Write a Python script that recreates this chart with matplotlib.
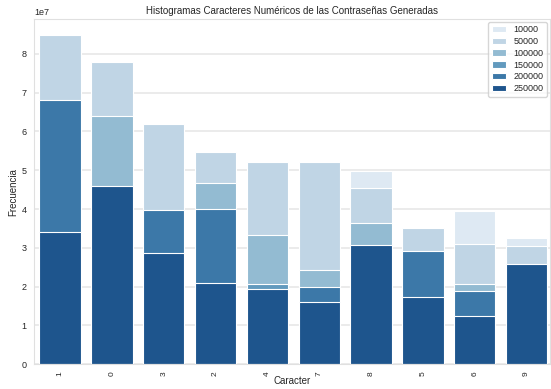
import numpy as np
import matplotlib
matplotlib.use('Agg')
import matplotlib.pyplot as plt
import seaborn as sns

nan = np.nan
caracteres = ['1', '0', '3', '2', '4', '7', '8', '5', '6', '9']
tamanos = ['10000', '50000', '100000', '150000', '200000', '250000']

# frecuencias (x 1e7), valores ocultos detras de otras barras = nan
f_10000 = [nan, nan, nan, nan, nan, nan, 4.98, nan, 3.94, 3.24]
f_50000 = [8.48, 7.79, 6.20, 5.47, 5.22, 5.21, 4.54, 3.51, 3.09, 3.04]
f_100000 = [nan, 6.39, nan, 4.67, 3.34, 2.42, 3.63, nan, 2.07, nan]
f_150000 = [nan, nan, nan, nan, 2.07, nan, nan, nan, nan, nan]
f_200000 = [6.80, nan, 3.97, 3.99, nan, 2.00, nan, 2.91, 1.89, nan]
f_250000 = [3.42, 4.59, 2.86, 2.09, 1.95, 1.60, 3.08, 1.72, 1.24, 2.58]
series = [f_10000, f_50000, f_100000, f_150000, f_200000, f_250000]

sns.set_style('whitegrid', {'grid.color': '#e8e8e8', 'axes.edgecolor': '#e0e0e0'})
plt.rcParams['font.family'] = ['Liberation Sans', 'DejaVu Sans']

colores = [sns.desaturate(c, 0.75) for c in sns.color_palette('Blues', 6)]

fig = plt.figure(figsize=(5.51, 3.89), dpi=100)
ax = fig.add_axes([0.062, 0.064, 0.936, 0.887])

x = np.arange(len(caracteres))
for nombre, vals, c in zip(tamanos, series, colores):
    ax.bar(x, np.array(vals) * 1e7, width=0.8, color=c, edgecolor='white',
           linewidth=0.8, label=nombre)

ax.set_xticks(x)
ax.set_xticklabels(caracteres, rotation=90, fontsize=6)
ax.tick_params(axis='x', pad=2)
ax.tick_params(axis='y', labelsize=6.5, pad=2)
ax.yaxis.get_offset_text().set_fontsize(6.5)
ax.set_xlim(-0.5, 9.45)
ax.set_ylim(0, 8.9e7)
ax.grid(axis='x', visible=False)
ax.grid(axis='y', linewidth=1.2)
ax.set_title('Histogramas Caracteres Numéricos de las Contraseñas Generadas', fontsize=7, pad=4)
ax.set_xlabel('Caracter', fontsize=7, labelpad=0)
ax.set_ylabel('Frecuencia', fontsize=7, labelpad=2)
ax.legend(loc='upper right', fontsize=6.5, handlelength=1.6, labelspacing=0.3,
          borderaxespad=0.3)

fig.savefig('out.png', dpi=100)
